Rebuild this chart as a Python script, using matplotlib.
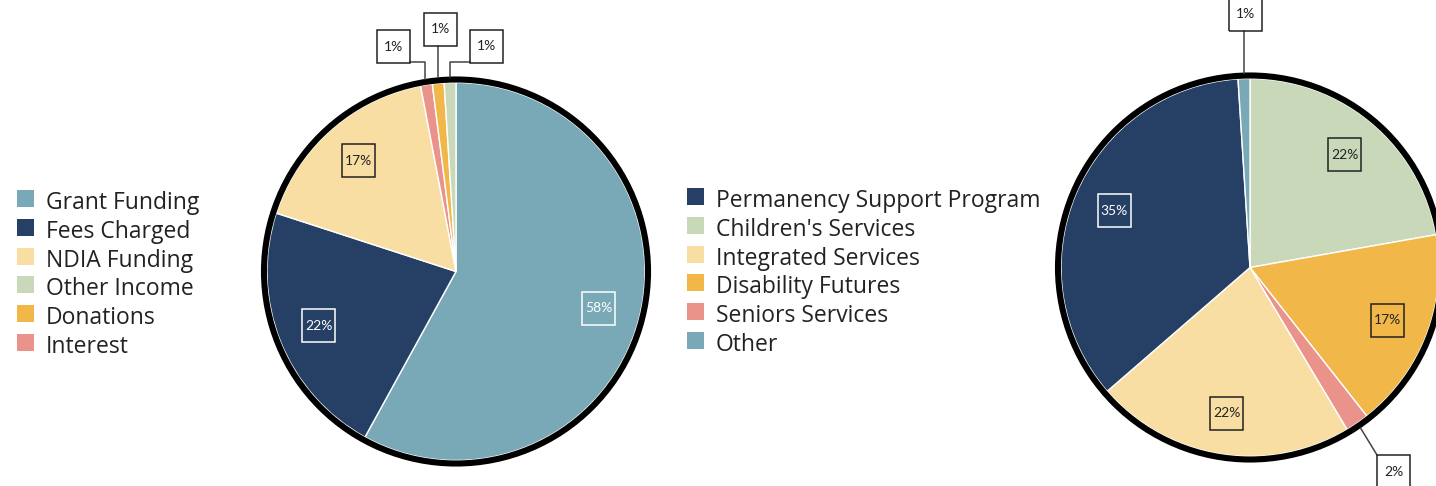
import numpy as np
import matplotlib.pyplot as plt
from matplotlib.patches import Rectangle, Circle

plt.rcParams['font.family'] = ['Lato', 'DejaVu Sans']

W, H = 1436, 486

# Income (left pie)
income_labels = ['Grant Funding', 'Fees Charged', 'NDIA Funding', 'Other Income', 'Donations', 'Interest']
income_values = [58, 22, 17, 1, 1, 1]
income_colors = ['#79a9b7', '#254064', '#f8dea2', '#cad8ba', '#f1b749', '#e9938b']
income_order = [0, 1, 2, 5, 4, 3]  # clockwise order in the pie

# Expenditure (right pie)
expense_labels = ['Permanency Support Program', "Children's Services", 'Integrated Services',
                  'Disability Futures', 'Seniors Services', 'Other']
expense_values = [35, 22, 22, 17, 2, 1]
expense_colors = ['#254064', '#cad8ba', '#f8dea2', '#f1b749', '#e9938b', '#79a9b7']
expense_order = [1, 3, 4, 2, 0, 5]

dark_slices = ['#254064', '#79a9b7']
txt_col = '#222222'


def px(x, y):
    # pixel position (from top-left) -> data coords
    return x, H - y


fig = plt.figure(figsize=(W / 100, H / 100), dpi=100)
ax = fig.add_axes([0, 0, 1, 1])

R = 189


def draw_pie(center, values, colors, order, labels_txt, small_boxes):
    vals = [values[i] for i in order]
    cols = [colors[i] for i in order]
    wedges, _ = ax.pie(vals, colors=cols, center=center, radius=R, startangle=90,
                       counterclock=False, wedgeprops=dict(edgecolor='white', linewidth=1))
    ax.add_patch(Circle(center, R + 3, fill=False, ec='black', lw=4.4, zorder=3))
    for k, w in enumerate(wedges):
        idx = order[k]
        mid = np.radians((w.theta1 + w.theta2) / 2)
        txt = f'{labels_txt[idx]}%'
        if idx in small_boxes:
            bx, by = small_boxes[idx]
            ex = center[0] + (R + 6) * np.cos(mid)
            ey = center[1] + (R + 6) * np.sin(mid)
            if by < ey:
                # below the pie, diagonal leader to top-left corner
                ax.plot([ex, bx - 16.5], [ey, by + 16.5], color='#444444', lw=1.1, zorder=4)
            elif abs(bx - ex) < 17:
                ax.plot([ex, ex], [ey, by - 16.5], color='#444444', lw=1.1, zorder=4)
            else:
                side = bx + 16.5 if bx < ex else bx - 16.5
                ax.plot([ex, ex, side], [ey, by - 15.5, by - 15.5], color='#444444', lw=1.1, zorder=4)
            c = txt_col
        else:
            bx = center[0] + 0.78 * R * np.cos(mid)
            by = center[1] + 0.78 * R * np.sin(mid)
            c = 'white' if colors[idx] in dark_slices else txt_col
        ax.add_patch(Rectangle((bx - 16.5, by - 16.5), 33, 33, fill=False, ec=c, lw=1.1, zorder=5))
        ax.text(bx, by, txt, ha='center', va='center', fontsize=10, color=c, zorder=6)


def draw_legend(x0, y0, labels, colors):
    for i, (lab, col) in enumerate(zip(labels, colors)):
        x, y = px(x0, y0 + i * 28.8)
        ax.add_patch(Rectangle((x, y - 8.5), 17, 17, fc=col, ec='none'))
        ax.text(x + 29, y - 1.5, lab, ha='left', va='center_baseline', fontsize=16.5,
                color=txt_col, family=['Open Sans', 'DejaVu Sans'])


draw_pie(px(456, 271.5), income_values, income_colors, income_order, income_values,
         {3: px(486.5, 46.5), 4: px(440, 29.5), 5: px(393, 47)})
draw_pie(px(1250, 267.5), expense_values, expense_colors, expense_order, expense_values,
         {5: px(1245, 14.5), 4: px(1393.5, 471.5)})

draw_legend(17, 198.5, income_labels, income_colors)
draw_legend(687, 196.5, expense_labels, expense_colors)

ax.set_xlim(0, W)
ax.set_ylim(0, H)
ax.set_aspect('auto')
ax.axis('off')

plt.savefig('out.png', dpi=100)
